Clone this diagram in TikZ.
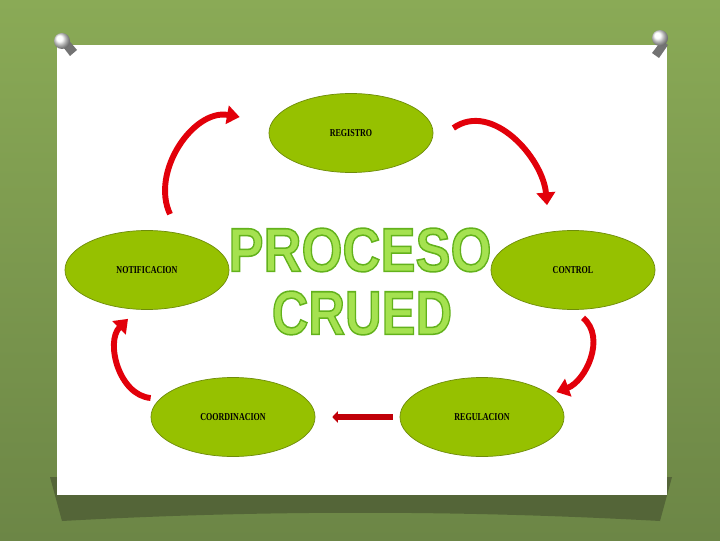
\documentclass[tikz,border=0pt]{standalone}
\usepackage{fontspec}
\setmainfont{Liberation Serif}
\newfontfamily\titlefont{Liberation Sans}
\usetikzlibrary{shapes.geometric,arrows.meta,calc}

\definecolor{bggreen}{RGB}{138,170,86}
\definecolor{bgdark}{RGB}{108,134,70}
\definecolor{shadowgreen}{RGB}{84,101,56}
\definecolor{stagefill}{RGB}{150,193,0}
\definecolor{stageline}{RGB}{110,140,10}
\definecolor{arrowred}{RGB}{226,0,10}
\definecolor{titlefill}{RGB}{165,226,80}

\newcommand{\stagelabel}[1]{\scalebox{0.76}[1]{\bfseries #1}}
% fill and stroke the glyphs, dark green outline
\newcommand{\outlined}[1]{\special{pdf:code q 2 Tr 1.1 w 0.39 0.70 0.11 RG}#1\special{pdf:code 0 Tr Q}}

\begin{document}
\begin{tikzpicture}[
  x=0.025cm, y=0.025cm,
  stage/.style={ellipse, draw=stageline, line width=0.5pt, fill=stagefill,
    minimum width=4.1cm, minimum height=1.975cm, inner sep=0pt,
    font=\fontsize{7.5}{8}\selectfont},
  flow/.style={draw=arrowred, line width=4.2pt,
    -{Triangle[length=9pt,width=13pt]}},
  flowline/.style={draw=arrowred!85!black, line width=4.2pt,
    -{Triangle[length=4pt,width=8pt]}},
  bigtext/.style={inner sep=0pt, text=titlefill,
    font=\titlefont\bfseries\fontsize{44}{44}\selectfont}
]
\useasboundingbox (0,0) rectangle (720,540);

% --- background and sheet ---
\shade[top color=bggreen, bottom color=bgdark] (0,0) rectangle (720,540);
\fill[shadowgreen] (50,63) -- (672,63) -- (660,19)
  .. controls (460,30) and (260,30) .. (62,19) -- cycle;
\fill[white] (57,45) rectangle (667,495);

% --- pins ---
\fill[black!55] (60,497) -- (70,484) -- (77,490) -- (66,503) -- cycle;
\shade[ball color=white] (62,499) circle (8);
\fill[black!55] (662,500) -- (652,487) -- (659,482) -- (668,495) -- cycle;
\shade[ball color=white] (660,502) circle (8);

% --- stages ---
\node[stage] (registro) at (351,407) {\stagelabel{REGISTRO}};
\node[stage] (notif) at (147,270) {\stagelabel{NOTIFICACION}};
\node[stage] (control) at (573,270) {\stagelabel{CONTROL}};
\node[stage] (coord) at (233,123) {\stagelabel{COORDINACION}};
\node[stage] (regul) at (482,123) {\stagelabel{REGULACION}};

% --- title ---
\node[bigtext] (proceso) at (360,290) {\scalebox{0.85}[1]{\outlined{PROCESO}}};
\node[bigtext] (crued) at (362,227) {\scalebox{0.82}[1]{\outlined{CRUED}}};

% --- cycle arrows ---
\draw[flow] ($(notif.north)+(23,16)$) to[out=115, in=170] ($(registro.west)+(-29,16)$);
\draw[flow] ($(registro.east)+(20,5)$) to[out=35, in=95] ($(control.north)+(-26,25)$);
\draw[flow] ($(control.south)+(10,-8)$) to[out=-40, in=20] ($(regul.east)+(-8,25)$);
\draw[flowline] (regul.west) -- (coord.east) [shorten <=5pt, shorten >=12pt];
\draw[flow] ($(coord.west)+(0,19)$) to[out=175, in=225] ($(notif.south)+(-19,-9)$);

\end{tikzpicture}
\end{document}
